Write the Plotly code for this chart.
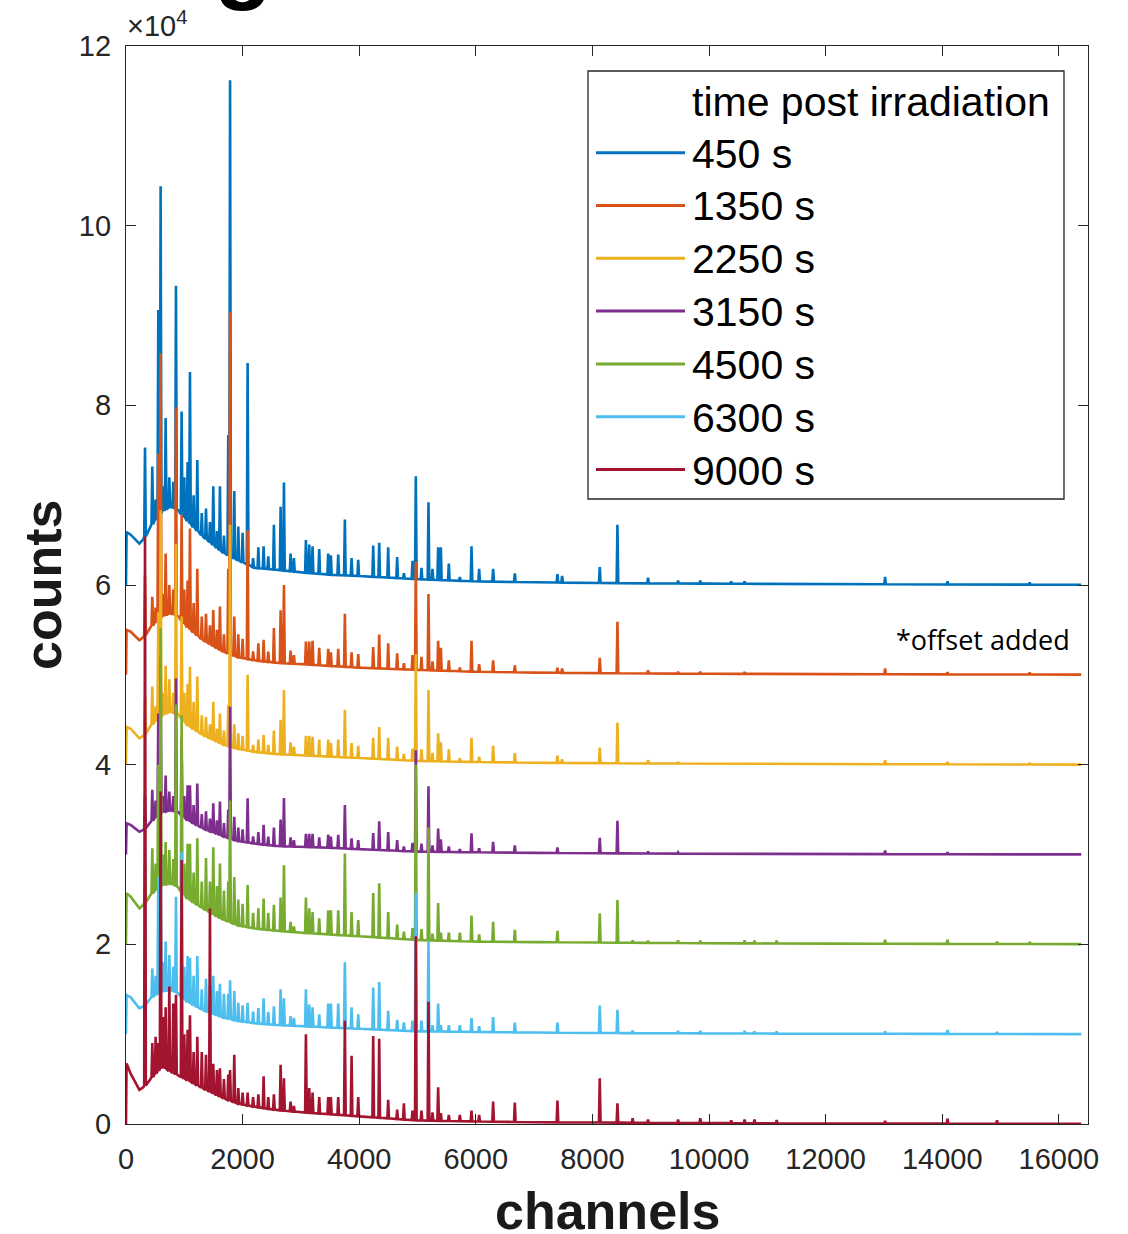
import numpy as np
import plotly.graph_objects as go

# ---- data -------------------------------------------------------------
labels = ["450 s", "1350 s", "2250 s", "3150 s", "4500 s", "6300 s", "9000 s"]
colors = ["#0072BD", "#D95319", "#EDB120", "#7E2F8E", "#77AC30", "#4DBEEE", "#A2142F"]
offsets = [60000, 50000, 40000, 30000, 20000, 10000, 0]

# continuum (Compton background) sampled at these channels
cont_ch = [0, 10, 80, 230, 300, 420, 620, 770, 900, 1040, 1320, 1640, 1900,
           2220, 2580, 3000, 3490, 4000, 5000, 6000, 7000, 8500, 10000,
           12000, 14000, 16384]

cont_450 = [0, 5900, 5600, 4600, 5100, 6500, 8200, 8700, 8300, 7200, 5400, 3700, 2800,
            1900, 1700, 1400, 1150, 1000, 650, 400, 300, 200, 150, 100, 60, 30]
cont_1350 = [0, 5000, 4800, 3850, 4200, 5300, 6500, 6850, 6500, 5350, 3870, 2650, 2010,
             1600, 1340, 1200, 1000, 800, 550, 350, 250, 170, 120, 80, 50, 20]
cont_2250 = [0, 4200, 4000, 2930, 3200, 4300, 5500, 5900, 5600, 4410, 3300, 2300, 1810,
             1400, 1180, 1050, 900, 750, 420, 300, 220, 150, 110, 70, 40, 10]
cont_3150 = [0, 3470, 3300, 2530, 2750, 3600, 4700, 4950, 4700, 3830, 2910, 2100, 1530,
             1200, 940, 860, 750, 600, 320, 250, 180, 120, 80, 50, 30, 10]
cont_4500 = [0, 5680, 5300, 4000, 4400, 5500, 6600, 6790, 6300, 5120, 4000, 2800, 2150,
             1750, 1520, 1300, 1100, 900, 480, 300, 250, 180, 120, 80, 50, 20]
cont_6300 = [0, 4360, 4100, 2880, 3100, 4000, 4800, 4910, 4500, 3610, 2690, 1900, 1500,
             1200, 1020, 900, 750, 600, 320, 250, 180, 120, 80, 50, 30, 10]
cont_9000 = [0, 6750, 5600, 3800, 4100, 5000, 6350, 5800, 5400, 4900, 3970, 2950, 2300,
             1900, 1560, 1300, 1100, 850, 400, 280, 200, 150, 100, 60, 40, 10]

# photopeak channels and peak-top counts per spectrum (None = no visible peak)
peak_ch = [326, 451, 508, 554, 594, 640, 680, 743, 811, 857,
           954, 1000, 1057, 1097, 1160, 1223, 1300, 1372, 1440, 1497,
           1560, 1611, 1680, 1754, 1785, 1857, 1926, 2000, 2086, 2180,
           2270, 2360, 2440, 2537, 2652, 2709, 2823, 2880, 3086, 3143,
           3200, 3314, 3468, 3514, 3640, 3754, 3869, 3983, 4240, 4343,
           4497, 4651, 4766, 4914, 4971, 5068, 5188, 5257, 5354, 5400,
           5537, 5726, 5926, 6057, 6297, 6669, 7400, 7480, 8126, 8429,
           8690, 8954, 9469, 9850, 10380, 10610, 10780, 11160, 13020, 14090,
           14940, 15500]

peaks_450 = [15300, 13200, 9500, 30600, 44400, 11000, 18600, 12000, 11500, 33300,
             19300, 12000, 13700, 23700, 10000, 13900, 8000, 8500, 7000, 11000,
             6000, 11000, 5500, 16700, 56200, 10450, 6500, 5800, 24700, 3000,
             4200, 4300, 3200, 6700, 8700, 11400, 3500, 3000, 5000, 4500,
             4300, 4000, 3500, 3300, 3400, 7300, 3000, 2800, 4400, 4700,
             4200, 3100, 1300, 2700, 12100, 1900, 9200, 1800, 4200, 4200,
             2400, 900, 4300, 1800, 1800, 1300, 1200, 1000, 2000, 6700,
             None, 800, 500, 500, 400, 400, None, None, 900, 400,
             None, 300]
peaks_1350 = [11100, 8700, 7500, 24600, 35800, 9000, 13500, 10000, 9500, 29800,
              17800, 9500, 10500, 16300, 8000, 11800, 6500, 6800, 5500, 7200,
              5000, 7600, 4500, 11800, 40400, 6500, 4500, 4000, 16100, 2600,
              3500, 3900, 2600, 5200, 7200, 10000, 2700, 2200, 3700, 3700,
              3800, 3000, 2900, 2500, 2900, 6800, 2500, 2300, 3100, 4500,
              3500, 2400, 1300, 2200, 12600, 2000, 9000, 1500, 3800, 3000,
              1600, 800, 3800, 1200, 1600, 1050, 800, 700, 1900, 5900,
              None, 500, 350, 350, None, 300, None, None, 700, 300,
              None, 250]
peaks_2250 = [7500, 8700, 6500, 17000, 28300, 8000, 11000, 9500, 8000, 24600,
              16500, 8000, 9000, 10900, 7000, 9800, 5500, 5300, 4500, 7000,
              4000, 5700, 3800, 6600, 26700, 4500, 3500, 3200, 10000, 2200,
              2800, 3300, 2200, 3800, 5000, 8300, 2500, 2000, 3200, 3200,
              3100, 2800, 2800, 2400, 2800, 6100, 2400, 2100, 3000, 4200,
              3000, 2000, 1200, 1800, 12300, 1700, 8300, 1300, 3500, 2500,
              1700, 700, 3000, 900, 2100, 1300, 1000, 600, 1900, 4700,
              None, 500, 300, None, None, None, None, None, 500, 300,
              None, 200]
peaks_3150 = [6500, 7200, 6000, 15700, 22000, 6500, 8800, 7000, 6500, 19600,
              13000, 6500, 7700, 7700, 5500, 7900, 4500, 4800, 4000, 5700,
              3800, 5900, 3500, 5000, 16450, 4200, 3000, 2800, 6250, 2000,
              2500, 3300, 2000, 3000, 3900, 6300, 1900, 1600, 2300, 2300,
              2300, 1900, 2200, 2000, 2200, 5500, 1800, 1600, 2400, 3700,
              2500, 1600, 900, 1300, 11600, 1200, 7600, 1000, 2900, 1700,
              900, 600, 2350, 700, 1400, 1000, 800, None, 1870, 3760,
              None, 350, 250, None, None, None, None, None, 450, 250,
              None, None]
peaks_4500 = [9000, 10700, 9000, 20000, 35200, 10000, 11400, 10500, 9500, 26700,
              25500, 9000, 11200, 11200, 8000, 11800, 7000, 9600, 7000, 10800,
              6500, 9000, 6000, 7000, 16000, 7500, 5000, 4500, 6600, 3500,
              4000, 5100, 3500, 4400, 5200, 8800, 2500, 2000, 5200, 4000,
              3600, 2900, 3800, 3800, 3800, 10100, 3600, 2700, 5700, 6800,
              3600, 2200, 1400, 1800, 20000, 1700, 13000, 1200, 4600, 1300,
              1300, 1300, 3200, 1100, 2500, 1600, 1500, None, 3450, 4930,
              450, 400, 450, 400, None, 450, 400, 400, 500, 500,
              300, 250]
peaks_6300 = [7000, 7300, 6500, 17500, 25000, 8000, 10300, 8800, 7500, 15300,
              20300, 7500, 8700, 8500, 6500, 8700, 5000, 6200, 5500, 6500,
              4800, 5600, 4500, 4500, 6000, 4800, 3500, 3200, 3500, 2500,
              2900, 4000, 2500, 3100, 5000, 4000, 2000, 1800, 5000, 3300,
              3000, 2200, 3400, 3400, 3400, 8000, 3000, 2200, 5200, 5800,
              2600, 1600, 1300, 1500, 15700, 1500, 10400, 1000, 3400, 1000,
              1000, 1000, 1800, 900, 1900, 1300, 1300, None, 3200, 2700,
              400, None, 350, 350, None, 350, 300, 300, 300, 450,
              250, None]
peaks_9000 = [65400, 9000, 9700, 9000, 37000, 11900, 13000, 15300, 13400, 14400,
              29400, 10000, 10500, 12100, 8000, 9700, 8000, 7700, 24000, 6700,
              6000, 6200, 5000, 5500, 6000, 7700, 4000, 3500, 3500, 3000,
              3300, 5300, 3000, 3300, 6600, 5100, 2500, 2000, 10000, 4000,
              3500, 3000, 3000, 3000, 3000, 11500, 7600, 3000, 9800, 9500,
              2700, 1600, 2300, 1500, 20900, 1500, 13600, 1300, 4100, 1200,
              1000, 1000, 1500, 1000, 2500, 2400, 2600, None, 5100, 2300,
              650, 500, 500, 650, 400, 500, 500, 450, 350, 600,
              400, None]

continua = [cont_450, cont_1350, cont_2250, cont_3150, cont_4500, cont_6300, cont_9000]
peak_tops = [peaks_450, peaks_1350, peaks_2250, peaks_3150, peaks_4500, peaks_6300, peaks_9000]

# axis ticks (y in units of 10^4 counts)
ytick_vals = [0, 20000, 40000, 60000, 80000, 100000, 120000]
ytick_text = ["0", "2", "4", "6", "8", "10", "12"]
xtick_vals = [0, 2000, 4000, 6000, 8000, 10000, 12000, 14000, 16000]
xtick_text = ["0", "2000", "4000", "6000", "8000", "10000", "12000", "14000", "16000"]

HALF = 14  # half width of a photopeak, in channels


def spectrum(cont, tops):
    """Polyline of a spectrum: continuum plus narrow photopeaks."""
    pts, windows = [], []
    for c, top in zip(peak_ch, tops):
        if top is None:
            continue
        base = float(np.interp(c, cont_ch, cont))
        pts += [(c - HALF, base), (c, top), (c + HALF, base)]
        windows.append((c - HALF, c + HALF))
    for c, v in zip(cont_ch, cont):
        if any(lo <= c <= hi for lo, hi in windows):
            continue
        pts.append((c, v))
    pts.sort(key=lambda p: p[0])
    x = np.array([p[0] for p in pts], dtype=float)
    y = np.array([p[1] for p in pts], dtype=float)
    return x, y


fig = go.Figure()
for name, col, off, cont, tops in zip(labels, colors, offsets, continua, peak_tops):
    x, y = spectrum(cont, tops)
    fig.add_trace(go.Scatter(x=x, y=y + off, mode="lines", name=name,
                             line=dict(color=col, width=2.6), showlegend=False))

# ---- layout -----------------------------------------------------------
W, H = 1128, 1234
L, R, T, B = 126, 40, 46, 110
PW, PH = W - L - R, H - T - B
FONT = "Liberation Sans, Arial, Helvetica, sans-serif"
AX = "#262626"


def px(xp):
    return (xp - L) / PW


def py(yp):
    return (H - B - yp) / PH


axis_common = dict(showline=True, linecolor=AX, linewidth=1.3, mirror="allticks",
                   ticks="inside", ticklen=10, tickwidth=1.2, tickcolor=AX,
                   showgrid=False, zeroline=False,
                   tickfont=dict(family=FONT, size=29, color=AX))

fig.update_layout(
    width=W, height=H,
    margin=dict(l=L, r=R, t=T, b=B),
    paper_bgcolor="white", plot_bgcolor="white",
    xaxis=dict(range=[0, 16500], tickvals=xtick_vals, ticktext=xtick_text,
               ticklabelstandoff=9, **axis_common),
    yaxis=dict(range=[0, 120000], tickvals=ytick_vals, ticktext=ytick_text,
               ticklabelstandoff=8, **axis_common),
    showlegend=False,
)

ann = []
# exponent label of the y axis
ann.append(dict(x=px(125), y=py(44), xref="paper", yref="paper", xanchor="left",
                yanchor="bottom", showarrow=False, text="×10<sup>4</sup>",
                font=dict(family=FONT, size=29, color=AX)))
# axis titles
ann.append(dict(x=px(43), y=py(585), xref="paper", yref="paper", xanchor="center",
                yanchor="middle", showarrow=False, text="<b>counts</b>", textangle=-90,
                font=dict(family=FONT, size=52, color="#1a1a1a")))
ann.append(dict(x=px(607), y=py(1211), xref="paper", yref="paper", xanchor="center",
                yanchor="middle", showarrow=False, text="<b>channels</b>",
                font=dict(family=FONT, size=52, color="#1a1a1a")))
# note about the vertical offsets
ann.append(dict(x=px(1072), y=py(639), xref="paper", yref="paper", xanchor="right",
                yanchor="middle", showarrow=False, text="*offset added",
                font=dict(family="Open Sans, Noto Sans, sans-serif", size=27, color="black")))

# legend box
shapes = [dict(type="rect", xref="paper", yref="paper", x0=px(588), x1=px(1064),
               y0=py(499), y1=py(71), line=dict(color=AX, width=1.3),
               fillcolor="white", layer="above")]
ann.append(dict(x=px(690), y=py(102), xref="paper", yref="paper", xanchor="left",
                yanchor="middle", showarrow=False, text="time post irradiation",
                font=dict(family=FONT, size=41, color="black")))
for i, (name, col) in enumerate(zip(labels, colors)):
    yy = 152.7 + 52.8 * i
    shapes.append(dict(type="line", xref="paper", yref="paper", x0=px(596), x1=px(685),
                       y0=py(yy), y1=py(yy), line=dict(color=col, width=3), layer="above"))
    ann.append(dict(x=px(690), y=py(yy + 1), xref="paper", yref="paper", xanchor="left",
                    yanchor="middle", showarrow=False, text=name,
                    font=dict(family=FONT, size=41, color="black")))

# descender of the heading letter above the axes
ann.append(dict(x=px(243), y=py(13), xref="paper", yref="paper", xanchor="center",
                yanchor="bottom", showarrow=False, text="<b>g</b>",
                font=dict(family=FONT, size=96, color="black")))

fig.update_layout(annotations=ann, shapes=shapes)
fig.write_html("out.html")
